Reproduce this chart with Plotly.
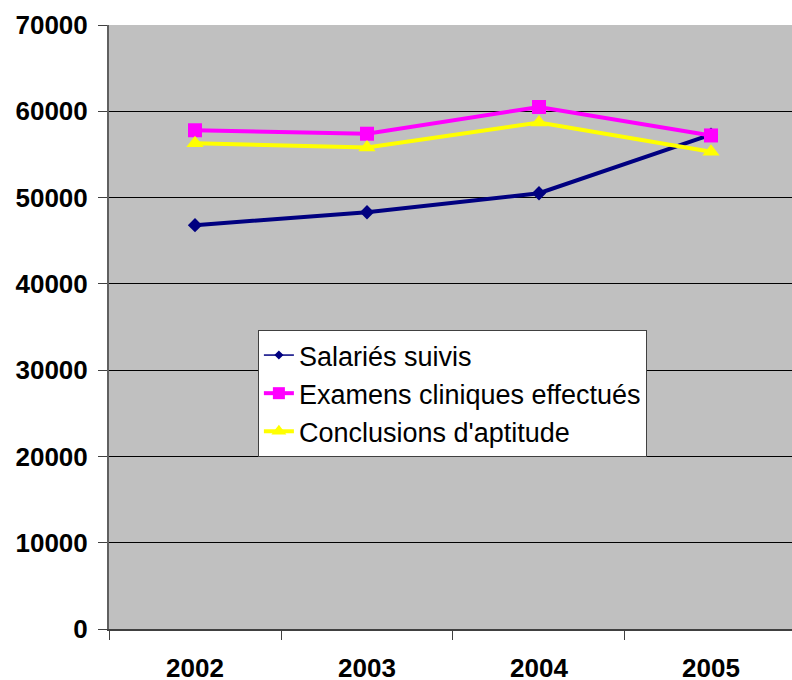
import plotly.graph_objects as go

years = ["2002", "2003", "2004", "2005"]
salaries_suivis = [46800, 48300, 50500, 57300]
examens_cliniques = [57800, 57400, 60500, 57200]
conclusions_aptitude = [56300, 55800, 58700, 55300]
y_ticks = [0, 10000, 20000, 30000, 40000, 50000, 60000, 70000]

FONT = "Liberation Sans, Arial, sans-serif"

fig = go.Figure()
fig.add_trace(go.Scatter(
    x=years, y=salaries_suivis, mode="lines+markers", name="Salariés suivis",
    line=dict(color="#000080", width=4),
    marker=dict(symbol="diamond", size=11, color="#000080"),
    showlegend=False,
))
fig.add_trace(go.Scatter(
    x=years, y=examens_cliniques, mode="lines+markers", name="Examens cliniques effectués",
    line=dict(color="#FF00FF", width=4),
    marker=dict(symbol="square", size=14, color="#FF00FF"),
    showlegend=False,
))
fig.add_trace(go.Scatter(
    x=years, y=conclusions_aptitude, mode="lines+markers", name="Conclusions d'aptitude",
    line=dict(color="#FFFF00", width=4),
    marker=dict(symbol="triangle-up", size=15, color="#FFFF00"),
    showlegend=False,
))
# legend entries (styled like the reference legend)
fig.add_trace(go.Scatter(
    x=[None], y=[None], mode="lines+markers", name="Salariés suivis",
    line=dict(color="#000080", width=1.5),
    marker=dict(symbol="diamond", size=7, color="#000080"),
))
fig.add_trace(go.Scatter(
    x=[None], y=[None], mode="lines+markers", name="Examens cliniques effectués",
    line=dict(color="#FF00FF", width=4),
    marker=dict(symbol="square", size=12, color="#FF00FF"),
))
fig.add_trace(go.Scatter(
    x=[None], y=[None], mode="lines+markers", name="Conclusions d'aptitude",
    line=dict(color="#FFFF00", width=4),
    marker=dict(symbol="triangle-up", size=13, color="#FFFF00"),
))

fig.update_layout(
    width=792, height=680,
    margin=dict(l=109, r=0, t=25, b=51, autoexpand=False),
    paper_bgcolor="white",
    plot_bgcolor="#C0C0C0",
    font=dict(family=FONT, color="black"),
    legend=dict(
        x=0.218, y=0.495, xanchor="left", yanchor="top",
        bgcolor="white", bordercolor="#404040", borderwidth=1,
        font=dict(size=27, family=FONT),
        tracegroupgap=0,
    ),
    xaxis=dict(
        type="category", range=[-0.5, 3.471], automargin=False,
        showgrid=False, showline=True, linecolor="#404040", linewidth=1.5,
        ticks="outside", ticklen=9, tickcolor="#404040", tickson="boundaries",
        tickfont=dict(size=26, family=FONT),
        ticklabelstandoff=15,
        zeroline=False,
    ),
    yaxis=dict(
        range=[0, 70000], tickvals=y_ticks, automargin=False,
        ticktext=[f"<b>{v}</b>" for v in y_ticks],
        showgrid=True, gridcolor="black", gridwidth=1,
        showline=True, linecolor="#606060", linewidth=2,
        ticks="outside", ticklen=9, tickcolor="#404040",
        tickfont=dict(size=26, family=FONT),
        ticklabelstandoff=5,
        zeroline=False,
    ),
)
fig.update_xaxes(tickvals=years, ticktext=[f"<b>{y}</b>" for y in years])

fig.write_html(
    "out.html",
    config={"displayModeBar": False},
    post_script="document.body.style.margin='0px';document.body.style.overflow='hidden';",
)
